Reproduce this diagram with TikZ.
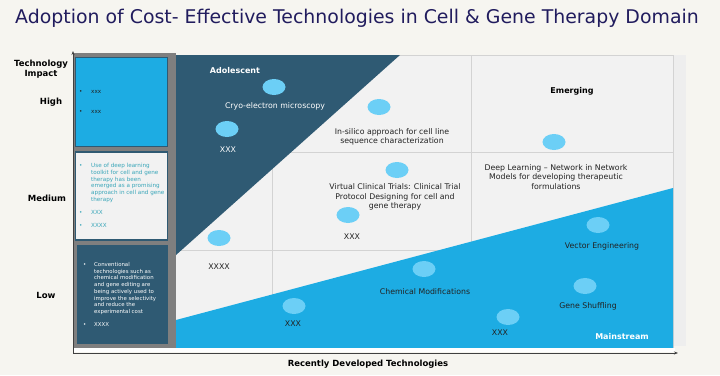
\documentclass[tikz,border=0pt]{standalone}
\usepackage{fontspec}
\setmainfont{DejaVu Sans}
\usetikzlibrary{shapes.geometric,arrows.meta}
\definecolor{bgc}{HTML}{F6F5F0}
\definecolor{titlec}{HTML}{211C5E}
\definecolor{darkc}{HTML}{2F5A73}
\definecolor{bluec}{HTML}{1DACE3}
\definecolor{circ}{HTML}{6CCFF6}
\definecolor{stripc}{HTML}{7F7F7F}
\definecolor{plotc}{HTML}{F2F2F2}
\definecolor{gridc}{HTML}{D3D3D3}
\definecolor{tealc}{HTML}{3AA6B9}
\definecolor{txt}{HTML}{222222}
\definecolor{shadc}{HTML}{EEEEEE}
\begin{document}
\begin{tikzpicture}[x=1pt,y=-1pt,
  dot/.style={ellipse, fill=circ, minimum width=23pt, minimum height=16pt, inner sep=0},
  lbl/.style={font=\fontsize{7.8}{9.2}\selectfont, text=txt, align=center, inner sep=0},
  wlbl/.style={lbl, text=white},
  hdr/.style={font=\bfseries\fontsize{8}{9.6}\selectfont, inner sep=0},
  axl/.style={font=\bfseries\fontsize{8.5}{10}\selectfont, text=black, inner sep=0, align=center},
  axisline/.style={draw=black!75, line width=0.8pt},
  gridline/.style={draw=gridc, line width=0.8pt},
  boxtwo/.style={font=\fontsize{5.65}{6.8}\selectfont, inner sep=0, anchor=base west},
  boxthree/.style={font=\fontsize{5.4}{6.7}\selectfont, inner sep=0, anchor=base west}
]
\useasboundingbox (0,0) rectangle (720,375);
\fill[bgc] (0,0) rectangle (720,375);

% title
\node[anchor=base west, inner sep=0, text=titlec, font=\fontsize{18.9}{22}\selectfont] (title) at (15,23.5) {Adoption of Cost- Effective Technologies in Cell \& Gene Therapy Domain};

% right shadow strip
\fill[shadc] (673,55) rectangle (686,346);
% plot background
\fill[plotc] (176,55) rectangle (673,348);
% grid
\draw[gridline] (272,55) -- (272,348);
\draw[gridline] (471,55) -- (471,348);
\draw[gridline] (176,152) -- (673,152);
\draw[gridline] (176,250) -- (673,250);
\draw[gridline] (176,55) -- (673,55) -- (673,348);

% dark triangle
\fill[darkc] (176,55) -- (400,55) -- (176,255) -- cycle;
% blue region
\fill[bluec] (176,320) -- (673,188) -- (673,348) -- (176,348) -- cycle;

% white gap under plot
\fill[white] (73,348) rectangle (675,352);

% grey strip and boxes
\fill[stripc] (73,53) rectangle (176,348);
\draw[fill=bluec, draw=darkc, line width=1pt] (75.5,57.5) rectangle (167.5,146.5);
\draw[fill=plotc, draw=darkc, line width=1.2pt] (75.5,152) rectangle (167.5,240);
\fill[darkc] (77,245) rectangle (168,344);

% box texts
\node[boxtwo, text=txt] (b1) at (79,93.5) {\begin{tabular}[t]{@{}p{12pt}@{}l@{}}
\textbullet & xxx\\[13.2pt]
\textbullet & xxx
\end{tabular}};
\node[boxtwo, text=tealc] (b2) at (79,167.5) {\begin{tabular}[t]{@{}p{12pt}@{}l@{}}
\textbullet & Use of deep learning\\
 & toolkit for cell and gene\\
 & therapy has been\\
 & emerged as a promising\\
 & approach in cell and gene\\
 & therapy\\[6pt]
\textbullet & XXX\\[6.5pt]
\textbullet & XXXX
\end{tabular}};
\node[boxthree, text=white] (b3) at (83,266.5) {\begin{tabular}[t]{@{}p{11pt}@{}l@{}}
\textbullet & Conventional\\
 & technologies such as\\
 & chemical modification\\
 & and gene editing are\\
 & being actively used to\\
 & improve the selectivity\\
 & and reduce the\\
 & experimental cost\\[6.3pt]
\textbullet & XXXX
\end{tabular}};

% axes
\coordinate (o) at (73,353);
\coordinate (ytop) at (73,51);
\coordinate (xend) at (678,353);
\draw[axisline, -{Stealth[length=4pt,width=3pt]}] (o) -- (ytop);
\draw[axisline, -{Stealth[length=4pt,width=3pt]}] (o) -- (xend);

% axis labels
\node[axl] (ytitle) at (41,69) {Technology\\Impact};
\node[axl] (yhigh) at (51,102) {High};
\node[axl] (ymed) at (47,198) {Medium};
\node[axl] (ylow) at (46,295) {Low};
\node[axl] (xtitle) at (368,364) {Recently Developed Technologies};

% zone headers
\node[hdr, text=white] (adol) at (235,71) {Adolescent};
\node[hdr, text=black] (emer) at (572,91) {Emerging};
\node[hdr, text=white] (main) at (622,337) {Mainstream};

% circles
\node[dot] (c1) at (274,87) {};
\node[dot] (c2) at (227,129) {};
\node[dot] (c3) at (379,107) {};
\node[dot] (c4) at (554,142) {};
\node[dot] (c5) at (397,170) {};
\node[dot] (c6) at (348,215) {};
\node[dot] (c7) at (219,238) {};
\node[dot] (c8) at (424,269) {};
\node[dot] (c9) at (598,225) {};
\node[dot] (c10) at (294,306) {};
\node[dot] (c11) at (585,286) {};
\node[dot] (c12) at (508,317) {};

% labels
\node[wlbl] (l1) at (275,106) {Cryo-electron microscopy};
\node[wlbl] (l2) at (228,150) {XXX};
\node[lbl] (l3) at (392,137) {In-silico approach for cell line\\sequence characterization};
\node[lbl] (l4) at (556,177) {Deep Learning -- Network in Network\\Models for developing therapeutic\\formulations};
\node[lbl] (l5) at (395,197) {Virtual Clinical Trials: Clinical Trial\\Protocol Designing for cell and\\gene therapy};
\node[lbl] (l6) at (352,237) {XXX};
\node[lbl] (l7) at (219,267) {XXXX};
\node[lbl] (l8) at (425,292) {Chemical Modifications};
\node[lbl] (l9) at (602,246) {Vector Engineering};
\node[lbl] (l10) at (293,324) {XXX};
\node[lbl] (l11) at (588,306) {Gene Shuffling};
\node[lbl] (l12) at (500,333) {XXX};
\end{tikzpicture}
\end{document}
